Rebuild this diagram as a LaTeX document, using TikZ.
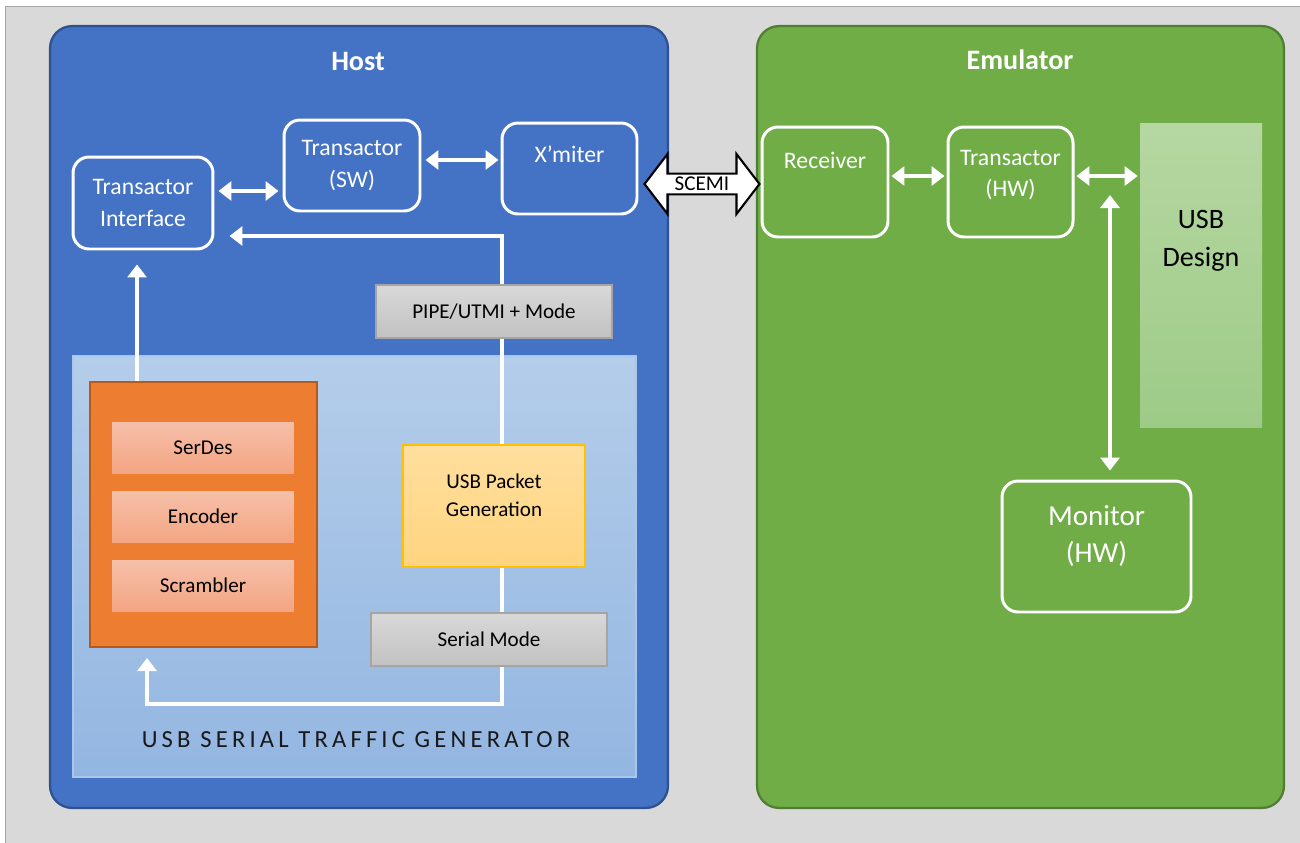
\documentclass[tikz,border=0pt]{standalone}
\usepackage{fontspec}
\setmainfont{Carlito}
\newfontfamily\spacedfont[LetterSpace=17]{Carlito}
\usetikzlibrary{arrows.meta}
\usetikzlibrary{positioning}
\usetikzlibrary{shapes.arrows}
\definecolor{bggray}{HTML}{D9D9D9}
\definecolor{framegray}{HTML}{A6A6A6}
\definecolor{hostblue}{HTML}{4472C4}
\definecolor{hostedge}{HTML}{2F528F}
\definecolor{emugreen}{HTML}{70AD47}
\definecolor{emuedge}{HTML}{507E32}
\definecolor{paneltop}{HTML}{B4CDEA}
\definecolor{panelbottom}{HTML}{93B6E1}
\definecolor{paneledge}{HTML}{A9C7EC}
\definecolor{coderfill}{HTML}{ED7D31}
\definecolor{coderedge}{HTML}{B55A1E}
\definecolor{stagetop}{HTML}{F5BFA9}
\definecolor{stagebottom}{HTML}{F4A683}
\definecolor{packettop}{HTML}{FFDF9E}
\definecolor{packetbottom}{HTML}{FFD47F}
\definecolor{packetedge}{HTML}{FFC000}
\definecolor{modetop}{HTML}{D8D8D8}
\definecolor{modebottom}{HTML}{C2C2C2}
\definecolor{modeedge}{HTML}{A5A5A5}
\definecolor{designtop}{HTML}{B6D7A2}
\definecolor{designbottom}{HTML}{9DCB87}
\tikzset{container/.style = {rounded corners = 0.44cm, line width = 1.3pt, inner sep = 0}}
\tikzset{title/.style = {text = white, font = \bfseries\fontsize{16}{19}\selectfont}}
\tikzset{unit/.style = {draw = white, line width = 1.7pt, rounded corners = 0.32cm, inner sep = 0, text = white, align = center, font = \fontsize{13.5}{18}\selectfont}}
\tikzset{unittext/.style = {text = white, align = center, inner sep = 0, font = \fontsize{13.5}{18}\selectfont}}
\tikzset{darktext/.style = {text = black, align = center, inner sep = 0, font = \fontsize{12}{16}\selectfont}}
\tikzset{stage/.style = {top color = stagetop, bottom color = stagebottom, minimum width = 3.64cm, minimum height = 1.02cm, inner sep = 0, text = black, font = \fontsize{12}{14}\selectfont}}
\tikzset{mode/.style = {draw = modeedge, line width = 0.8pt, top color = modetop, bottom color = modebottom, minimum width = 4.72cm, minimum height = 1.06cm, inner sep = 0, text = black, font = \fontsize{12}{14}\selectfont}}
\tikzset{flow/.style = {white, line width = 2.3pt, -{Triangle[length = 0.26cm, width = 0.38cm]}}}
\tikzset{link/.style = {white, line width = 2.3pt, {Triangle[length = 0.26cm, width = 0.38cm]}-{Triangle[length = 0.26cm, width = 0.38cm]}}}

\begin{document}
\begin{tikzpicture}[x = 0.02cm, y = -0.02cm]
    \useasboundingbox (0, 0) rectangle (1300, 842);
    \fill [white] (0, 0) rectangle (1300, 842);
    \draw [fill = bggray, draw = framegray] (5, 6) rectangle (1310, 850);
    % the two sides
    \node [container, fill = hostblue, draw = hostedge, minimum width = 12.36cm, minimum height = 15.64cm] (host) at (359, 417) {};
    \node [container, fill = emugreen, draw = emuedge, minimum width = 10.54cm, minimum height = 15.64cm] (emulator) at (1020.5, 417) {};
    \node [title] (hosttitle) at (358, 61) {Host};
    \node [title] (emutitle) at (1020, 60) {Emulator};
    % traffic generator
    \node [draw = paneledge, line width = 1pt, top color = paneltop, bottom color = panelbottom, minimum width = 11.26cm, minimum height = 8.42cm, inner sep = 0] (generator) at (354.5, 566.5) {};
    \node [text = black!90, inner sep = 0, font = \spacedfont\fontsize{14}{16}\selectfont] (generatorlabel) at (356, 740) {USB SERIAL TRAFFIC GENERATOR};
    \node [fill = coderfill, draw = coderedge, line width = 1.2pt, minimum width = 4.54cm, minimum height = 5.3cm, inner sep = 0] (coder) at (203.5, 514.5) {};
    \foreach \name/\txt [count = \i] in {serdes/SerDes, encoder/Encoder, scrambler/Scrambler}{
      \node [stage] (\name) at (203, 378.5 + 69 * \i) {\txt};
    }
    \node [draw = packetedge, line width = 0.8pt, top color = packettop, bottom color = packetbottom, minimum width = 3.64cm, minimum height = 2.44cm, inner sep = 0] (packet) at (494, 506) {};
    \node [darktext] (packettext) at ([yshift = 0.22cm] packet.center) {USB Packet\\Generation};
    % host blocks
    \node [unit, minimum width = 2.8cm, minimum height = 1.84cm] (ti) at (143, 203) {Transactor\\Interface};
    \node [unit, minimum width = 2.72cm, minimum height = 1.82cm] (sw) at (352, 165.5) {Transactor\\(SW)};
    \node [unit, minimum width = 2.7cm, minimum height = 1.82cm] (xmiter) at (569.5, 168.5) {};
    \node [unittext] (xmitertext) at ([yshift = 0.29cm] xmiter.center) {X’miter};
    % flows inside the host
    \draw [flow, shorten >= 0.3cm] ([xshift = 0.16cm] packet.north) |- ([yshift = -0.66cm] ti.east);
    \draw [flow, shorten >= 0.2cm] ([xshift = 0.16cm] packet.south) -- ++(0, 136) -| ([xshift = -1.13cm] coder.south);
    \draw [flow, shorten >= 0.28cm] ([xshift = -1.33cm] coder.north) -- ([xshift = -1.33cm] coder.north |- ti.south);
    \node [mode] (pipe) at (494, 311.5) {PIPE/UTMI + Mode};
    \node [mode] (serial) at (489, 639.5) {Serial Mode};
    % emulator blocks
    \node [unit, minimum width = 2.52cm, minimum height = 2.2cm] (receiver) at (825, 182) {};
    \node [unittext] (receivertext) at ([yshift = 0.44cm] receiver.center) {Receiver};
    \node [unit, minimum width = 2.5cm, minimum height = 2.2cm] (hw) at (1010.5, 182) {};
    \node [unittext] (hwtext) at ([yshift = 0.14cm] hw.center) {Transactor\\(HW)};
    \node [top color = designtop, bottom color = designbottom, minimum width = 2.44cm, minimum height = 6.1cm, inner sep = 0] (design) at (1201, 275.5) {};
    \node [darktext, font = \fontsize{16}{21.6}\selectfont] (designtext) at ([yshift = 0.69cm] design.center) {USB\\Design};
    \node [unit, minimum width = 3.78cm, minimum height = 2.62cm] (monitor) at (1096.5, 546.5) {};
    \node [unittext, font = \fontsize{16.5}{21}\selectfont] (monitortext) at ([yshift = 0.21cm] monitor.center) {Monitor\\(HW)};
    % SCE-MI link
    \node [double arrow, draw = black, fill = white, line width = 1.2pt, minimum height = 2.3cm, minimum width = 1.2cm, double arrow head extend = 0.3cm, double arrow tip angle = 105, inner sep = 0, font = \fontsize{12}{14}\selectfont] (scemi) at (702, 184) {SCEMI};
    % links
    \draw [link, shorten <= 0.08cm, shorten >= 0.08cm] ([yshift = 0.24cm] ti.east) -- ([yshift = 0.24cm] ti.east -| sw.west);
    \draw [link, shorten <= 0.08cm, shorten >= 0.04cm] ([yshift = 0.11cm] sw.east) -- ([yshift = 0.11cm] sw.east -| xmiter.west);
    \draw [link, shorten <= 0.04cm, shorten >= 0.04cm] ([yshift = 0.12cm] receiver.east) -- ([yshift = 0.12cm] receiver.east -| hw.west);
    \draw [link, shorten <= 0.04cm, shorten >= 0.04cm] ([yshift = 0.12cm] hw.east) -- ([yshift = 0.12cm] hw.east -| design.west);
    \coordinate (tap) at (1110, 195);
    \draw [link, shorten >= 0.18cm] (tap) -- (tap |- monitor.north);
  \end{tikzpicture}
\end{document}
